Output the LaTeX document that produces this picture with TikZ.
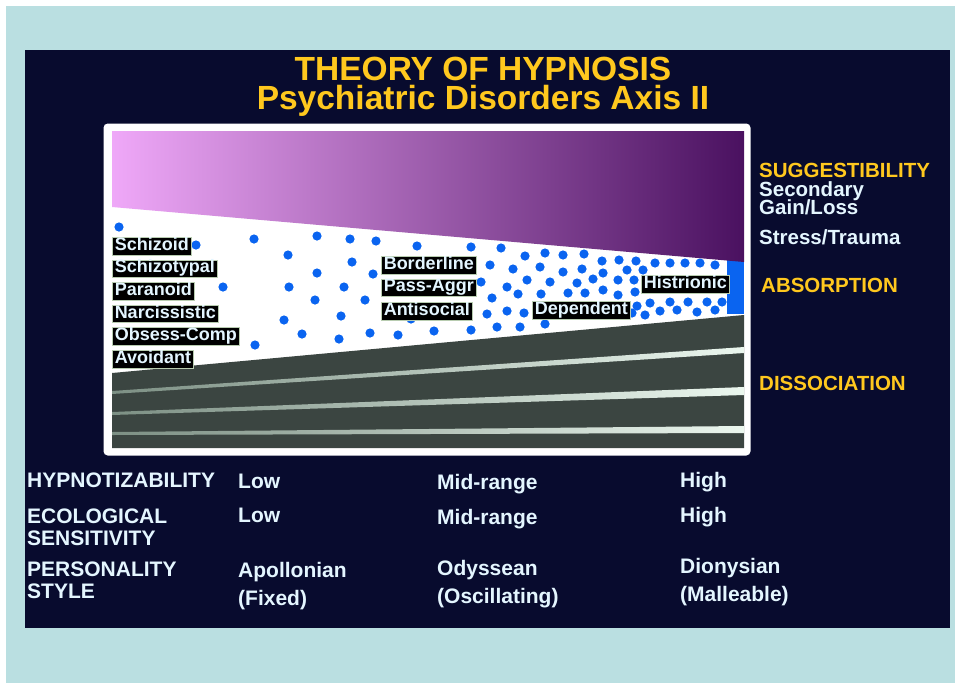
\documentclass[tikz,border=0pt]{standalone}
\usepackage{fontspec}
\setmainfont{Liberation Sans}
\usetikzlibrary{positioning}
\definecolor{oframe}{HTML}{BADFE1}
\definecolor{onight}{HTML}{080B2E}
\definecolor{ogold}{HTML}{FFC81E}
\definecolor{opale}{HTML}{E4F6FF}
\definecolor{olilac}{HTML}{EFA8F8}
\definecolor{omauve}{HTML}{A853C4}
\definecolor{oplum}{HTML}{4A1160}
\definecolor{oslate}{HTML}{3B4541}
\definecolor{ostreak}{HTML}{CDEBD6}
\definecolor{odot}{HTML}{0A64F0}
\definecolor{oedge}{HTML}{B8CCB0}
\lineskiplimit=-20pt

\begin{document}
\begin{tikzpicture}[
  x=1pt, y=-1pt,
  tag/.style={
    fill=black,
    draw=oedge,
    line width=0.5pt,
    text=opale,
    font=\fontsize{18}{18}\selectfont\bfseries,
    inner xsep=2.5pt,
    inner ysep=0.8pt,
    text height=12.3pt,
    text depth=3.6pt,
    anchor=west
  },
  heading/.style={text=ogold, align=center, inner sep=0pt, anchor=north,
    font=\fontsize{33.5}{29}\selectfont\bfseries},
  axis tag/.style={text=ogold, font=\fontsize{20.5}{20.5}\selectfont\bfseries, inner sep=0pt, anchor=base west},
  side note/.style={axis tag, text=opale},
  row head/.style={text=opale, inner sep=0pt, anchor=north west, align=left,
    font=\fontsize{21}{22}\selectfont\bfseries},
  row value/.style={row head, font=\fontsize{21}{28}\selectfont\bfseries},
  blob/.style={fill=odot},
  streak/.style={left color=oslate!55!ostreak, right color=ostreak!40!white}
]

\useasboundingbox (0,0) rectangle (955,683);
\fill[white] (0,0) rectangle (955,683);
\fill[oframe] (6,6) rectangle (955,683);
\fill[onight] (25,50) rectangle (950,628);

% title
\node[heading] (title) at (483,57) {THEORY OF HYPNOSIS\\Psychiatric Disorders Axis II};

% chart frame
\draw[white, fill=white, line width=3pt, rounded corners=3pt] (105,125) rectangle (749,454);

% absorption dots
\fill[odot] (727,258) -- (744,258) -- (744,314) -- (727,314) -- cycle;
\foreach \x/\y in {119/227, 196/245, 254/239, 317/236, 350/239, 376/241, 417/246,
  471/247, 501/248, 288/255, 352/262, 317/273, 373/274, 223/287, 289/287, 344/287,
  315/300, 365/300, 284/320, 341/316, 302/334, 339/339, 370/333, 398/335, 434/331,
  471/330, 497/327, 520/327, 255/345, 490/265, 481/282, 507/287, 492/298, 487/314,
  507/311, 411/319, 428/289,
  525/256, 545/253, 563/255, 584/254, 602/261, 619/260, 636/261,
  513/269, 540/267, 563/272, 582/269, 603/273, 627/270, 643/270,
  527/280, 550/282, 577/283, 593/279, 618/280, 634/280,
  518/294, 541/294, 568/293, 585/293, 603/290, 618/295, 635/292,
  524/313, 545/324, 580/315, 607/312, 632/313,
  655/263, 670/263, 685/263, 700/263, 715/265,
  637/306, 650/303, 660/311, 670/302, 677/310, 688/302, 697/312, 707/302,
  715/310, 722/302, 645/315}
  \fill[blob] (\x,\y) circle (4.6pt);

% bands
\shade[left color=olilac, middle color=omauve, right color=oplum]
  (112,131) -- (744,131) -- (744,262) -- (112,207) -- cycle;
\fill[oslate] (112,373) -- (744,315) -- (744,448) -- (112,448) -- cycle;
\shade[streak] (112,391) -- (744,347) -- (744,353) -- (112,394) -- cycle;
\shade[streak] (112,412) -- (744,387) -- (744,395) -- (112,415) -- cycle;
\shade[streak] (112,432) -- (744,426) -- (744,433) -- (112,435) -- cycle;

% disorders
\node[tag] (schizoid) at (112,246) {Schizoid};
\node[tag, below=4.6pt of schizoid.south west, anchor=north west] (schizotypal) {Schizotypal};
\node[tag, below=4.6pt of schizotypal.south west, anchor=north west] (paranoid) {Paranoid};
\node[tag, below=4.6pt of paranoid.south west, anchor=north west] (narcissistic) {Narcissistic};
\node[tag, below=4.6pt of narcissistic.south west, anchor=north west] (obsess) {Obsess-Comp};
\node[tag, below=4.6pt of obsess.south west, anchor=north west] (avoidant) {Avoidant};

\node[tag] (borderline) at (381,265) {Borderline};
\node[tag, below=4.6pt of borderline.south west, anchor=north west] (passaggr) {Pass-Aggr};
\node[tag, below=5.4pt of passaggr.south west, anchor=north west] (antisocial) {Antisocial};
\node[tag] (dependent) at (532,310) {Dependent};
\node[tag] (histrionic) at (641,284) {Histrionic};

% right-hand scale
\node[axis tag] (suggest) at (759,177) {SUGGESTIBILITY};
\node[side note, anchor=north west, align=left,
  font=\fontsize{20.5}{18}\selectfont\bfseries] (gain) at (759,181.5) {Secondary\\Gain/Loss};
\node[side note] (stress) at (759,244) {Stress/Trauma};
\node[axis tag] (absorb) at (761,292) {ABSORPTION};
\node[axis tag] (dissoc) at (759,390) {DISSOCIATION};

% table below
\node[row head] (hypno) at (27,473) {HYPNOTIZABILITY};
\node[row value] (hypnolow) at (238,474) {Low};
\node[row value] (hypnomid) at (437,474) {Mid-range};
\node[row value] (hypnohigh) at (680,472) {High};

\node[row head] (eco) at (27,509) {ECOLOGICAL\\SENSITIVITY};
\node[row value] (ecolow) at (238,508) {Low};
\node[row value] (ecomid) at (437,509) {Mid-range};
\node[row value] (ecohigh) at (680,507) {High};

\node[row head, font=\fontsize{21}{21.5}\selectfont\bfseries] (person) at (27,562) {PERSONALITY\\STYLE};
\node[row value] (apoll) at (238,562) {Apollonian\\(Fixed)};
\node[row value] (odyss) at (437,560) {Odyssean\\(Oscillating)};
\node[row value] (diony) at (680,558) {Dionysian\\(Malleable)};

\end{tikzpicture}
\end{document}
